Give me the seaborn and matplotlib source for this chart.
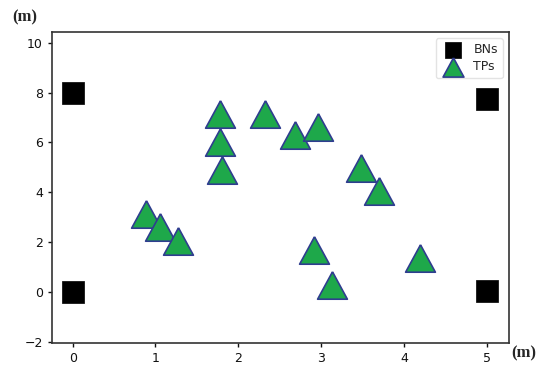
import matplotlib
matplotlib.use("Agg")
import matplotlib.pyplot as plt
import seaborn as sns

# Nodos base (BNs)
bn_x = [0, 0, 5, 5]
bn_y = [8.0, 0.0, 7.75, 0.05]

# Puntos de prueba (TPs)
tp_x = [1.78, 1.78, 1.80, 2.32, 2.69, 2.96, 3.48, 3.70, 2.92, 3.13, 0.88, 1.06, 1.27, 4.19]
tp_y = [7.13, 6.01, 4.90, 7.13, 6.30, 6.63, 4.98, 4.06, 1.70, 0.29, 3.14, 2.60, 2.04, 1.36]

xticks = [0, 1, 2, 3, 4, 5]
yticks = [-2, 0, 2, 4, 6, 8, 10]

sns.set_style("ticks")
plt.rcParams['font.family'] = ['DejaVu Sans']

# triangulo algo mas ancho que alto, como en la figura original
tri = [(0, 0.92), (-1, -0.92), (1, -0.92), (0, 0.92)]

fig = plt.figure(figsize=(5.5, 3.77), dpi=100)
ax = fig.add_axes([0.0945, 0.090, 0.831, 0.825])

sns.scatterplot(x=bn_x, y=bn_y, marker='s', color='black', s=250,
                edgecolor='black', linewidth=0.5, label='BNs', ax=ax, zorder=3)
sns.scatterplot(x=tp_x, y=tp_y, marker=tri, color='#1ea84a', s=460,
                edgecolor='#2f3d8f', linewidth=1.2, label='TPs', ax=ax, zorder=3)

ax.set_xlim(-0.25, 5.27)
ax.set_ylim(-2.05, 10.43)
ax.set_xticks(xticks)
ax.set_yticks(yticks)
ax.tick_params(labelsize=9, colors='#111111', length=3, width=1)
for sp in ax.spines.values():
    sp.set_color('#333333')
    sp.set_linewidth(1.2)

ax.set_xlabel('')
ax.set_ylabel('')
fig.text(0.045, 0.955, '(m)', fontsize=12, fontweight='bold',
         family='Liberation Serif', ha='center', va='center')
fig.text(0.952, 0.063, '(m)', fontsize=12, fontweight='bold',
         family='Liberation Serif', ha='center', va='center')

leg = ax.legend(loc='upper right', markerscale=0.7, fontsize=9,
                frameon=True, handletextpad=0.6, borderpad=0.4,
                labelspacing=0.3)
leg.get_frame().set_edgecolor('#dddddd')

fig.savefig('out.png', dpi=100)
